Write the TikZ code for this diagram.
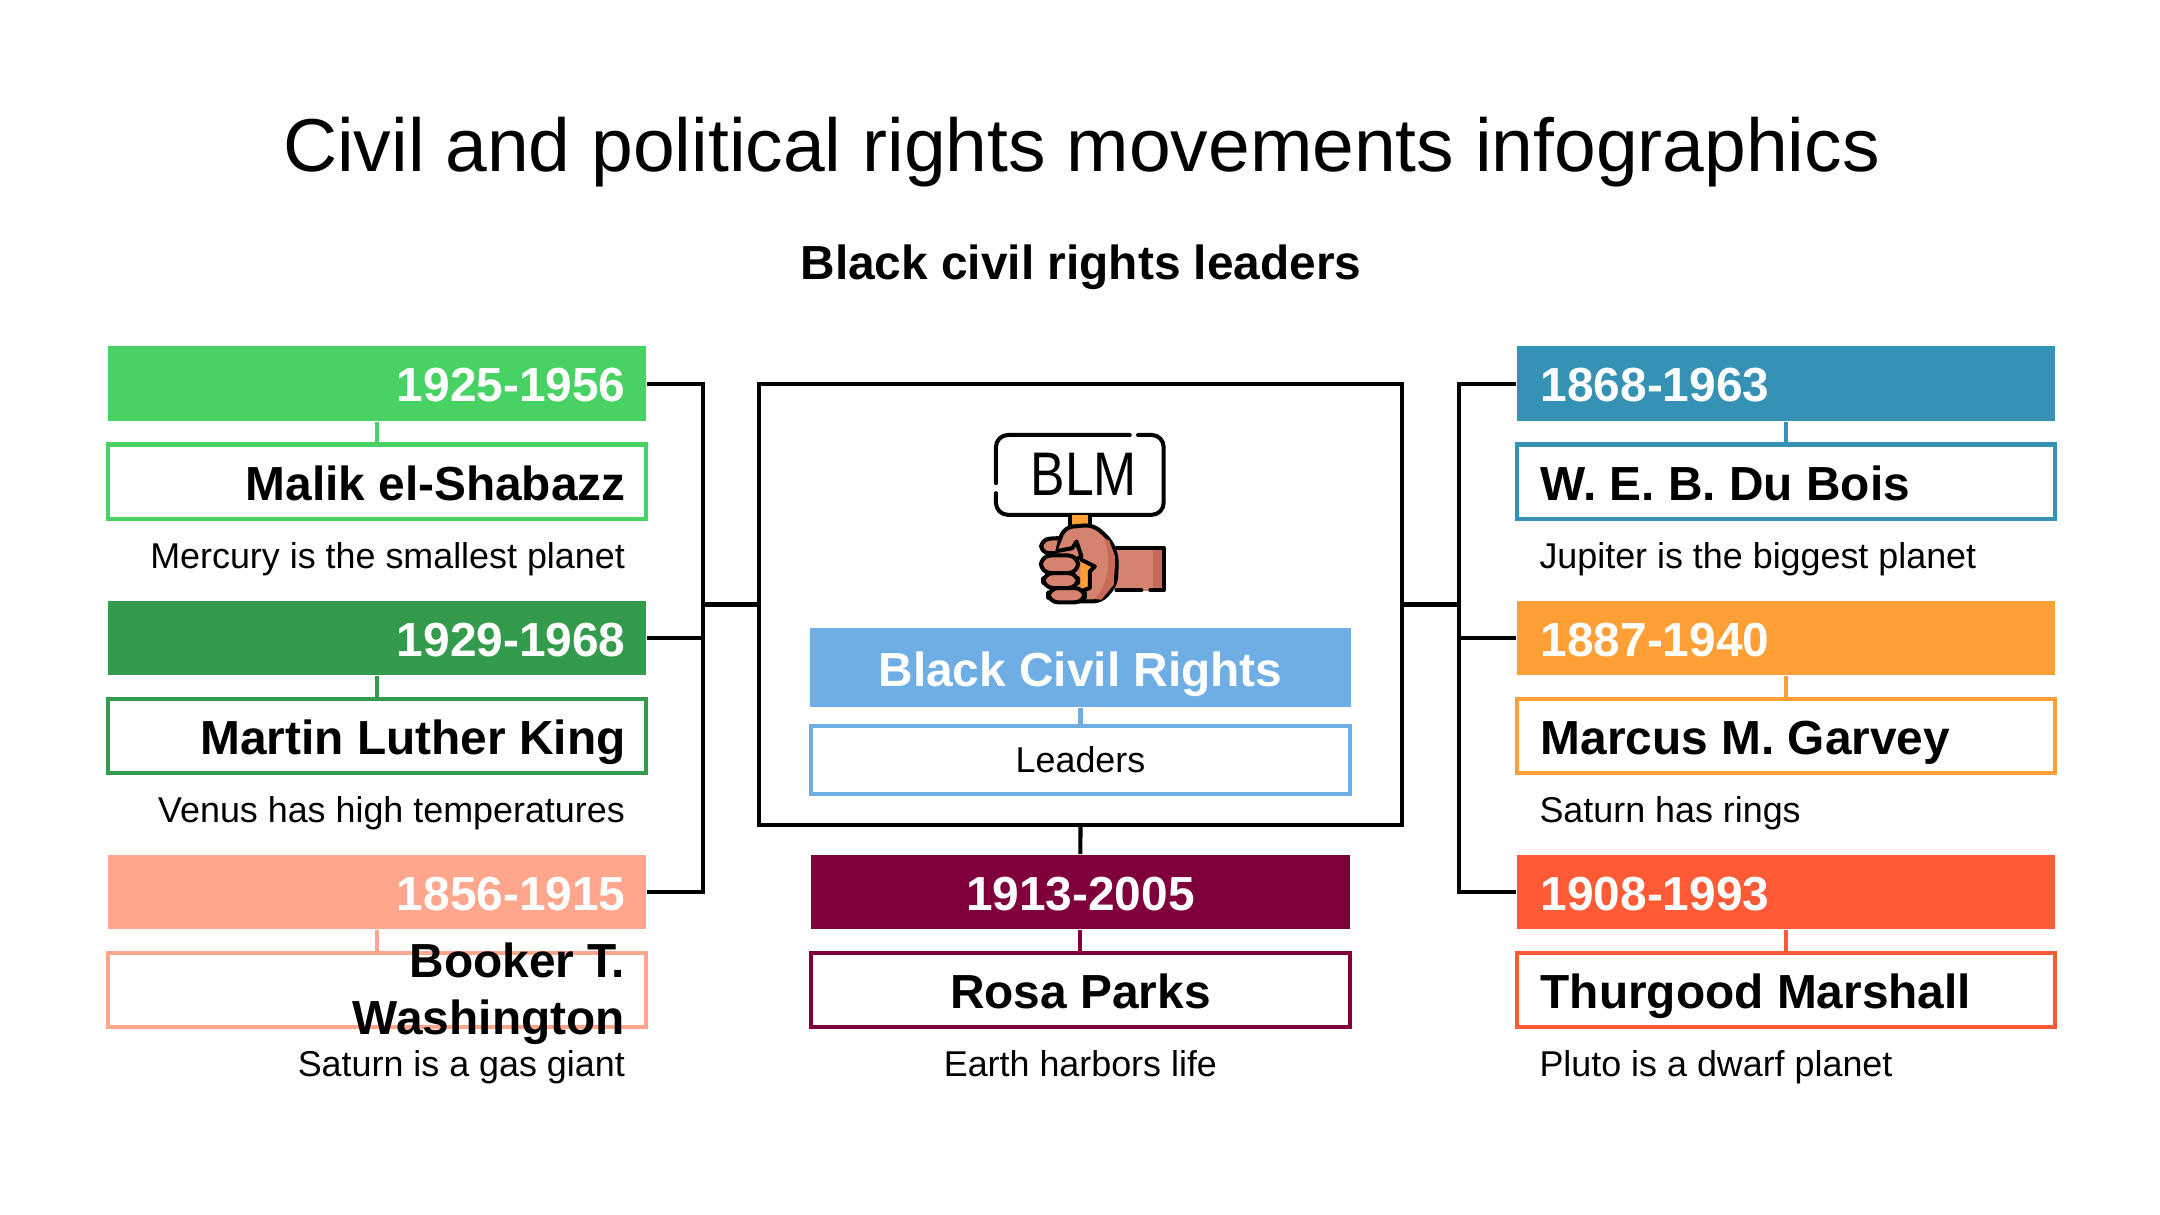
\documentclass[tikz,border=0pt]{standalone}
\usepackage{fontspec}
\setmainfont{Liberation Sans}
\definecolor{grasgruen}{HTML}{48D264}
\definecolor{waldgruen}{HTML}{359B4C}
\definecolor{lachs}{HTML}{FFA68C}
\definecolor{weinrot}{HTML}{80003C}
\definecolor{petrol}{HTML}{3592B4}
\definecolor{bernstein}{HTML}{FF9F36}
\definecolor{ziegel}{HTML}{FF5A36}
\definecolor{himmel}{HTML}{6FAEE4}
\definecolor{haut}{HTML}{D5826F}
\definecolor{hautdunkel}{HTML}{C76B57}
\begin{document}
\begin{tikzpicture}
	[
	x=0.01cm, y=-0.01cm,
	wire/.style={line width=1.15pt, black},
	yearbar/.style={fill=#1, text=white, font=\fontsize{13.6}{16.2}\selectfont\bfseries, minimum height=0.745cm, inner ysep=0pt, text height=0.365cm, text depth=0pt},
	namebox/.style={draw=#1, line width=1.15pt, fill=white, font=\fontsize{13.6}{16.2}\selectfont\bfseries, minimum height=0.74cm, inner ysep=0pt, text height=0.37cm, text depth=0pt},
	nametext/.style={font=\fontsize{13.6}{16.2}\selectfont\bfseries, inner sep=0pt},
	desctext/.style={font=\fontsize{10.2}{12.2}\selectfont, inner sep=0pt},
	leftside/.style={align=flush right, inner xsep=0.205cm, text width=4.97cm},
	rightside/.style={align=flush left, inner xsep=0.24cm, text width=4.90cm},
	midside/.style={align=flush center, inner xsep=0.22cm, text width=4.94cm},
	stub/.style={line width=1.15pt, #1},
	handline/.style={line width=1.15pt, black, line cap=round, line join=round}
	]
	\useasboundingbox (0,0) rectangle (2160,1215);
	
	%Titel
	\node[font=\fontsize{21.33}{25}\selectfont, inner sep=0pt] (title) at (1081.5,152) {Civil and political rights movements infographics};
	\node[nametext] (subtitle) at (1081,267) {Black civil rights leaders};
	
	%Rahmen in der Mitte
	\node[draw, line width=1.15pt, minimum width=6.43cm, minimum height=4.41cm, inner sep=0pt] (frame) at (1080.5,604.5) {};
	\node[fill=himmel, text=white, font=\fontsize{13.6}{16.2}\selectfont\bfseries, minimum width=5.41cm, minimum height=0.79cm, inner sep=0pt, text height=0.38cm, text depth=0pt] (topicbar) at (1080.5,667.5) {Black Civil Rights};
	\node[draw=himmel, line width=1.15pt, font=\fontsize{10.2}{12.2}\selectfont, minimum width=5.39cm, minimum height=0.68cm, inner sep=0pt] (topicbox) at (1080.5,760) {Leaders};
	\draw[stub=himmel] (topicbar.south) -- (topicbox.north);
	
	%Schild
	\begin{scope}[shift={(960,410)}, x=0.00333cm, y=-0.00333cm]
		\draw[handline, rounded corners=0.12cm] (510,75) -- (108,75) -- (108,220);
		\draw[handline, rounded corners=0.12cm] (108,250) -- (108,315) -- (612,315) -- (612,75) -- (535,75);
		\node[font=\fontsize{17.5}{20}\selectfont, xscale=0.84, inner sep=0pt] (signtext) at (372,192) {BLM};
		%Griff
		\fill[bernstein] (330,315) rectangle (392,350);
		\draw[handline] (330,315) -- (330,345);
		\draw[handline] (392,315) -- (392,350);
		%Arm
		\fill[haut] (465,415) rectangle (612,545);
		\fill[hautdunkel] (580,420) rectangle (610,540);
		\draw[handline] (470,415) -- (612,415) -- (612,542) -- (572,542);
		\draw[handline] (545,542) -- (470,542);
		%Faust
		\draw[handline, fill=haut, rounded corners=0.08cm] (285,425) -- (315,352) -- (400,345) -- (452,390) -- (472,440) -- (468,525) -- (425,575) -- (300,575) -- (270,500) -- cycle;
		\fill[hautdunkel] (432,385) .. controls (455,440) and (450,520) .. (405,568) -- (425,570) -- (462,525) -- (466,440) -- (448,392) -- cycle;
		\fill[bernstein] (362,450) -- (402,470) -- (390,485) -- (390,538) -- (362,542) -- cycle;
		\draw[handline] (285,425) -- (338,415) -- (350,395) -- (365,440) -- (355,445);
		\draw[handline] (365,450) -- (405,470) -- (390,485) -- (390,535) -- (370,542);
		\draw[handline, fill=haut, rounded corners=0.08cm] (295,385) -- (245,388) -- (243,430) -- (285,430);
		\draw[handline, fill=haut, rounded corners=0.1cm] (243,437) rectangle (355,490);
		\draw[handline, fill=haut, rounded corners=0.1cm] (250,490) rectangle (355,535);
		\draw[handline, fill=haut, rounded corners=0.1cm] (265,535) rectangle (375,578);
	\end{scope}
	
	%Malik
	\node[yearbar=grasgruen, leftside] (malikyear) at (377,383.7) {1925-1956};
	\node[namebox=grasgruen, leftside] (malikbox) at (377,481.5) {Malik el-Shabazz};
	\node[desctext, anchor=base east] (malikdesc) at (625.5,568.5) {Mercury is the smallest planet};
	\draw[stub=grasgruen] (malikyear.south) -- (malikbox.north);
	
	%King
	\begin{scope}[yshift=-2.54cm]
		\node[yearbar=waldgruen, leftside] (kingyear) at (377,383.7) {1929-1968};
		\node[namebox=waldgruen, leftside] (kingbox) at (377,481.5) {Martin Luther King};
		\node[desctext, anchor=base east] (kingdesc) at (625.5,568.5) {Venus has high temperatures};
		\draw[stub=waldgruen] (kingyear.south) -- (kingbox.north);
	\end{scope}
	
	%Booker
	\begin{scope}[yshift=-5.08cm]
		\node[yearbar=lachs, leftside] (bookeryear) at (377,383.7) {1856-1915};
		\node[namebox=lachs, leftside] (bookerbox) at (377,481.5) {};
		\node[nametext, align=flush right, anchor=east] (bookername) at (625.5,485.5) {Booker T.\\Washington};
		\node[desctext, anchor=base east] (bookerdesc) at (625.5,568.5) {Saturn is a gas giant};
		\draw[stub=lachs] (bookeryear.south) -- (bookerbox.north);
	\end{scope}
	
	%Rosa
	\begin{scope}[xshift=7.03cm, yshift=-5.08cm]
		\node[yearbar=weinrot, midside] (rosayear) at (377,383.7) {1913-2005};
		\node[namebox=weinrot, midside] (rosabox) at (377,481.5) {Rosa Parks};
		\node[desctext, anchor=base] (rosadesc) at (377,568.5) {Earth harbors life};
		\draw[stub=weinrot] (rosayear.south) -- (rosabox.north);
	\end{scope}
	
	%Du Bois
	\begin{scope}[xshift=14.08cm]
		\node[yearbar=petrol, rightside] (boisyear) at (377,383.7) {1868-1963};
		\node[namebox=petrol, rightside] (boisbox) at (377,481.5) {W. E. B. Du Bois};
		\node[desctext, anchor=base west] (boisdesc) at (130,568.5) {Jupiter is the biggest planet};
		\draw[stub=petrol] (boisyear.south) -- (boisbox.north);
	\end{scope}
	
	%Garvey
	\begin{scope}[xshift=14.08cm, yshift=-2.54cm]
		\node[yearbar=bernstein, rightside] (garveyyear) at (377,383.7) {1887-1940};
		\node[namebox=bernstein, rightside] (garveybox) at (377,481.5) {Marcus M. Garvey};
		\node[desctext, anchor=base west] (garveydesc) at (130,568.5) {Saturn has rings};
		\draw[stub=bernstein] (garveyyear.south) -- (garveybox.north);
	\end{scope}
	
	%Marshall
	\begin{scope}[xshift=14.08cm, yshift=-5.08cm]
		\node[yearbar=ziegel, rightside] (marshallyear) at (377,383.7) {1908-1993};
		\node[namebox=ziegel, rightside] (marshallbox) at (377,481.5) {Thurgood Marshall};
		\node[desctext, anchor=base west] (marshalldesc) at (130,568.5) {Pluto is a dwarf planet};
		\draw[stub=ziegel] (marshallyear.south) -- (marshallbox.north);
	\end{scope}
	
	%Verbindungen
	\coordinate (leftbus) at (703,604.5);
	\coordinate (rightbus) at (1459,604.5);
	\draw[wire] (malikyear.east) -| (leftbus);
	\draw[wire] (bookeryear.east) -| (leftbus);
	\draw[wire] (kingyear.east) -- (kingyear.east -| leftbus);
	\draw[wire] (frame.west) -- (leftbus);
	\draw[wire] (boisyear.west) -| (rightbus);
	\draw[wire] (marshallyear.west) -| (rightbus);
	\draw[wire] (garveyyear.west) -- (garveyyear.west -| rightbus);
	\draw[wire] (frame.east) -- (rightbus);
	\draw[wire] (frame.south) -- (rosayear.north);
\end{tikzpicture}
\end{document}
